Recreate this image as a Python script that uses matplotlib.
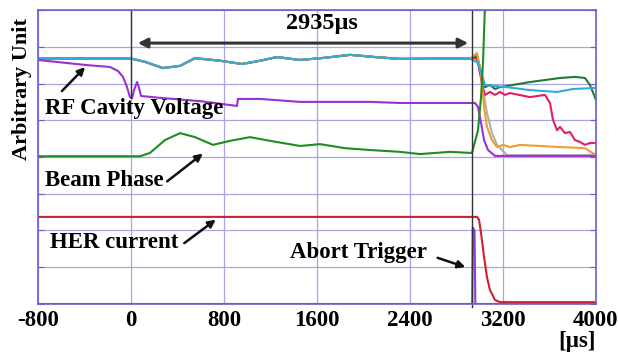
import matplotlib
matplotlib.use("Agg")
import matplotlib.pyplot as plt

plt.rcParams['font.family'] = ['Liberation Serif', 'DejaVu Serif']
plt.rcParams['font.weight'] = 'bold'

# time axis ticks [us]
xticks = [-800, 0, 800, 1600, 2400, 3200, 4000]

# cavity voltage traces (common part before abort)
cav_t = [-800, 0, 120, 275, 422, 550, 766, 955, 1110, 1256, 1454, 1669, 1884, 2099, 2314, 2658, 2916]
cav_y = [6.68, 6.68, 6.59, 6.42, 6.48, 6.69, 6.62, 6.53, 6.62, 6.72, 6.64, 6.70, 6.78, 6.72, 6.67, 6.68, 6.68]

cyan_t = cav_t + [2985, 3045, 3234, 3432, 3665, 3802, 4000]
cyan_y = cav_y + [6.56, 5.96, 5.90, 5.82, 5.77, 5.85, 5.88]

orange_t = cav_t + [2976, 3011, 3037, 3062, 3105, 3148, 3200, 3260, 3346, 3518, 3690, 3905, 4000]
orange_y = cav_y + [6.83, 6.29, 5.36, 4.82, 4.46, 4.27, 4.33, 4.27, 4.33, 4.30, 4.27, 4.24, 4.05]

dgreen_t = cav_t + [2976, 3045, 3088, 3131, 3174, 3432, 3690, 3819, 3905, 3948, 4000]
dgreen_y = cav_y + [6.75, 5.90, 5.96, 5.85, 5.90, 6.04, 6.15, 6.18, 6.15, 5.96, 5.55]

pink_t = cav_t + [2976, 3028, 3045, 3088, 3131, 3174, 3217, 3260, 3432, 3561, 3604, 3630,
                  3665, 3690, 3733, 3776, 3819, 3862, 3905, 3948, 4000]
pink_y = cav_y + [6.70, 5.88, 5.69, 5.77, 5.69, 5.77, 5.69, 5.74, 5.63, 5.69, 5.47, 5.01,
                  4.73, 4.82, 4.65, 4.68, 4.46, 4.41, 4.33, 4.38, 4.38]

gray_t = cav_t + [2990, 3062, 3105, 3148, 3191, 3234, 4000]
gray_y = cav_y + [6.60, 5.20, 4.65, 4.33, 4.19, 4.05, 4.05]

# RF cavity voltage (purple)
rf_t = [-800, -378, -181, -112, -69, -34, -9, 9, 26, 52, 69, 86, 249, 594, 912, 920, 1110,
        1454, 2056, 2314, 2959, 2985, 3011, 3037, 3071, 3131, 4000]
rf_y = [6.64, 6.50, 6.45, 6.34, 6.18, 5.90, 5.63, 5.60, 5.82, 6.04, 5.88, 5.66, 5.61, 5.52, 5.39, 5.58, 5.58,
        5.50, 5.50, 5.47, 5.47, 5.36, 4.93, 4.46, 4.19, 4.03, 4.03]

# beam phase (green)
bp_t = [-800, 77, 163, 292, 422, 551, 705, 852, 1024, 1196, 1454, 1626, 1841, 2056, 2314, 2486,
        2744, 2933, 2985, 3011, 3028, 3050]
bp_y = [4.02, 4.02, 4.11, 4.46, 4.65, 4.54, 4.33, 4.44, 4.54, 4.44, 4.30, 4.35, 4.24, 4.19, 4.14, 4.08,
        4.14, 4.11, 4.73, 5.63, 6.56, 8.6]

# HER current (red)
her_t = [-800, 2976, 2994, 3011, 3037, 3062, 3088, 3131, 3174, 4000]
her_y = [2.37, 2.37, 2.29, 1.93, 1.28, 0.73, 0.38, 0.11, 0.05, 0.05]

# abort trigger (violet)
ab_t = [-800, 2935, 2940, 2955, 2962, 4000]
ab_y = [0.0, 0.0, 2.08, 2.0, 0.0, 0.0]

fig = plt.figure(figsize=(6.18, 3.55), dpi=100)
ax = fig.add_axes([0.0615, 0.1437, 0.9029, 0.8281])

fs = 16.5
ax.set_xlim(-800, 4000)
ax.set_ylim(0, 8)
ax.set_xticks(xticks)
ax.set_xticklabels([str(v) for v in xticks], fontsize=fs, fontweight='bold')
ax.set_yticks(range(0, 9))
ax.set_yticklabels([])
ax.tick_params(axis='x', length=0, pad=4)
ax.tick_params(axis='y', direction='in', length=4, color='#6a5ed0', left=True, right=True)
ax.grid(True, color='#a9a6e6', linewidth=0.9)
for s in ax.spines.values():
    s.set_color('#6a5ed0')
    s.set_linewidth(1.2)

lw = 1.5
ax.plot(gray_t, gray_y, color='#b0b0b0', lw=lw)
ax.plot(pink_t, pink_y, color='#e31c6c', lw=lw)
ax.plot(dgreen_t, dgreen_y, color='#1f7a3a', lw=lw)
ax.plot(orange_t, orange_y, color='#f39c2e', lw=lw)
ax.plot(cyan_t, cyan_y, color='#35a9da', lw=lw)
ax.plot(rf_t, rf_y, color='#9b30d0', lw=lw)
ax.plot(bp_t, bp_y, color='#1e8c1e', lw=lw)
ax.plot(her_t, her_y, color='#d0202a', lw=lw)
ax.plot(ab_t, ab_y, color='#8a3fd8', lw=lw)

# markers for the 2935 us interval
ax.plot([0, 0], [8, 5.6], color='#333333', lw=1)
ax.plot([2935, 2935], [8, -0.08], color='#333333', lw=1, clip_on=False)
ax.annotate('', xy=(34, 7.10), xytext=(2925, 7.10),
            arrowprops=dict(arrowstyle='<|-|>', color='#333333', lw=2.2, mutation_scale=14))
ax.text(1643, 7.62, '2935\u03bcs', ha='center', va='center', fontsize=17.5, fontweight='bold')

lab = dict(fontsize=fs, fontweight='bold', va='center', ha='left')
arr = dict(arrowstyle='-|>', color='#111111', lw=1.8, mutation_scale=11)
ax.text(-740, 5.33, 'RF Cavity Voltage', **lab)
ax.annotate('', xy=(-378, 6.50), xytext=(-611, 5.74), arrowprops=arr)
ax.text(-740, 3.37, 'Beam Phase', **lab)
ax.annotate('', xy=(637, 4.14), xytext=(292, 3.29), arrowprops=arr)
ax.text(-697, 1.66, 'HER current', **lab)
ax.annotate('', xy=(748, 2.34), xytext=(439, 1.61), arrowprops=arr)
ax.text(1370, 1.39, 'Abort Trigger', **lab)
ax.annotate('', xy=(2899, 0.98), xytext=(2615, 1.28), arrowprops=arr)

fig.text(22 / 618, 1 - 89 / 355, 'Arbitrary Unit', rotation=90, ha='center', va='center',
         fontsize=16, fontweight='bold')
fig.text(577 / 618, 1 - 342 / 355, '[\u03bcs]', ha='center', va='center',
         fontsize=fs, fontweight='bold')

fig.savefig('out.png', dpi=100)
